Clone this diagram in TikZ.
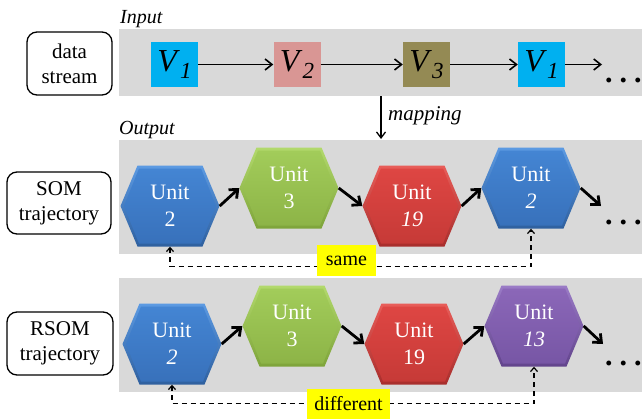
\documentclass[tikz,border=0pt]{standalone}
\usepackage{fontspec}
\setmainfont{LiberationSerif}[Extension=.ttf, UprightFont=*-Regular,
  ItalicFont=*-Italic, BoldFont=*-Bold, BoldItalicFont=*-BoldItalic]
\usetikzlibrary{arrows.meta}

\definecolor{band}{HTML}{D9D9D9}
\definecolor{vcyan}{HTML}{00B0F0}
\definecolor{vpink}{HTML}{D99694}
\definecolor{volive}{HTML}{948A54}
\definecolor{tagyellow}{HTML}{FFFF00}
% hexagon colours: rim top/bottom (OT/OB) and face top/bottom (FT/FB)
\definecolor{blueOT}{HTML}{5C9AE2}\definecolor{blueOB}{HTML}{2F609F}
\definecolor{blueFT}{HTML}{4485D3}\definecolor{blueFB}{HTML}{3871BB}
\definecolor{greenOT}{HTML}{B2D96C}\definecolor{greenOB}{HTML}{7EA43A}
\definecolor{greenFT}{HTML}{A2CC5A}\definecolor{greenFB}{HTML}{8DB447}
\definecolor{redOT}{HTML}{E85D59}\definecolor{redOB}{HTML}{A82E2C}
\definecolor{redFT}{HTML}{DE4643}\definecolor{redFB}{HTML}{C63A37}
\definecolor{purpOT}{HTML}{9A7BC6}\definecolor{purpOB}{HTML}{62448C}
\definecolor{purpFT}{HTML}{8B67B8}\definecolor{purpFB}{HTML}{7756A5}

\newcommand{\fsz}[2]{\rmfamily\fontsize{#1}{#2}\selectfont}
\newcommand{\vlab}[1]{\textit{V}\raisebox{-7pt}{\fsz{23}{23}\textit{#1}}}

\tikzset{
  labelbox/.style={draw, rounded corners=10pt, line width=1.3pt, align=center,
    font=\fsz{21}{25}, inner sep=0pt},
  vbox/.style={fill=#1, minimum width=47pt, minimum height=45pt, inner sep=0pt,
    font=\fsz{32}{32}},
  hexa/.style={minimum width=99pt, minimum height=81pt, inner sep=0pt,
    text=white, align=center, font=\fsz{22}{27},
    path picture={
      % bevelled rim
      \shade[top color=#1OT, bottom color=#1OB]
        (path picture bounding box.west)
        -- ([xshift=17pt]path picture bounding box.north west)
        -- ([xshift=-17pt]path picture bounding box.north east)
        -- (path picture bounding box.east)
        -- ([xshift=-17pt]path picture bounding box.south east)
        -- ([xshift=17pt]path picture bounding box.south west)
        -- cycle;
      % face
      \shade[top color=#1FT, bottom color=#1FB]
        ([xshift=3.5pt]path picture bounding box.west)
        -- ([xshift=18.5pt,yshift=-3pt]path picture bounding box.north west)
        -- ([xshift=-18.5pt,yshift=-3pt]path picture bounding box.north east)
        -- ([xshift=-3.5pt]path picture bounding box.east)
        -- ([xshift=-18.5pt,yshift=3pt]path picture bounding box.south east)
        -- ([xshift=18.5pt,yshift=3pt]path picture bounding box.south west)
        -- cycle;
    }},
  inarrow/.style={line width=1.6pt, -{Straight Barb[length=7pt,width=11pt]}},
  hexarrow/.style={line width=2.8pt, -{Straight Barb[length=7pt,width=12pt]}},
  linkarrow/.style={line width=1.2pt, dash pattern=on 5pt off 4pt,
    {Straight Barb[length=4pt,width=7pt]}-{Straight Barb[length=4pt,width=7pt]}},
  tag/.style={fill=tagyellow, inner sep=0pt, font=\fsz{20}{20}},
  itlabel/.style={font=\fsz{20}{20}\itshape, inner sep=0pt, anchor=base west},
  dotsrow/.style={font=\fsz{30}{30}\bfseries, inner sep=0pt, anchor=base west},
}

\begin{document}
\begin{tikzpicture}[x=1pt,y=-1pt]
\useasboundingbox (0,0) rectangle (642,418);

% grey bands
\fill[band] (119,29) rectangle (642,96);
\fill[band] (119,140) rectangle (642,254);
\fill[band] (119,278) rectangle (642,392);

% row labels
\node[labelbox, minimum width=85pt, minimum height=63pt] (ds) at (69.5,63.5) {data\\stream};
\node[labelbox, minimum width=104pt, minimum height=62pt] (som) at (59,203) {SOM\\trajectory};
\node[labelbox, minimum width=106pt, minimum height=63pt] (rsom) at (60,343.5) {RSOM\\trajectory};

\node[itlabel] (inlab) at (120,23) {Input};
\node[itlabel] (outlab) at (119,134) {Output};

% input stream
\node[vbox=vcyan] (v1) at (174.5,64.5) {\vlab{1}};
\node[vbox=vpink] (v2) at (297,64.5) {\vlab{2}};
\node[vbox=volive] (v3) at (426.5,64.5) {\vlab{3}};
\node[vbox=vcyan] (v4) at (541.5,64.5) {\vlab{1}};
\coordinate (vend) at (602,64.5);
\draw[inarrow] (v1) -- (v2);
\draw[inarrow] (v2) -- (v3);
\draw[inarrow] (v3) -- (v4);
\draw[inarrow] (v4) -- (vend);
\node[dotsrow] (dots0) at (605,82.5) {.\hspace{7pt}.\hspace{7pt}.};

% mapping
\coordinate (mapA) at (381,96);
\coordinate (mapB) at (381,139);
\draw[line width=1.3pt, -{Straight Barb[length=6pt,width=9pt]}] (mapA) -- (mapB);
\node[itlabel, font=\fsz{21}{21}\itshape] (maplab) at (388,120) {mapping};

% SOM trajectory
\node[hexa=blue] (s1) at (170,206) {Unit\\2};
\node[hexa=green] (s2) at (289,188) {Unit\\3};
\node[hexa=red] (s3) at (412,206) {Unit\\\textit{19}};
\node[hexa=blue] (s4) at (531,188) {Unit\\\textit{2}};
\coordinate (send) at (601,206);
\draw[hexarrow] (s1.east) -- (s2.west);
\draw[hexarrow] (s2.east) -- (s3.west);
\draw[hexarrow] (s3.east) -- (s4.west);
\draw[hexarrow] (s4.east) -- (send);
\node[dotsrow] (dots1) at (605,224.5) {.\hspace{7pt}.\hspace{7pt}.};

\draw[linkarrow] (s1.south) -- ++(0,20) -| (s4.south);
\node[tag, minimum width=59pt, minimum height=31pt] (same) at (346.5,260.5) {same};

% RSOM trajectory
\node[hexa=blue] (r1) at (172,344) {Unit\\\textit{2}};
\node[hexa=green] (r2) at (292,326) {Unit\\3};
\node[hexa=red] (r3) at (414,344) {Unit\\19};
\node[hexa=purp] (r4) at (534,326) {Unit\\\textit{13}};
\coordinate (rend) at (603,344);
\draw[hexarrow] (r1.east) -- (r2.west);
\draw[hexarrow] (r2.east) -- (r3.west);
\draw[hexarrow] (r3.east) -- (r4.west);
\draw[hexarrow] (r4.east) -- (rend);
\node[dotsrow] (dots2) at (605,365.5) {.\hspace{7pt}.\hspace{7pt}.};

\draw[linkarrow] (r1.south) -- ++(0,19) -| (r4.south);
\node[tag, minimum width=83pt, minimum height=30pt] (diff) at (348.5,404) {different};
\end{tikzpicture}
\end{document}
